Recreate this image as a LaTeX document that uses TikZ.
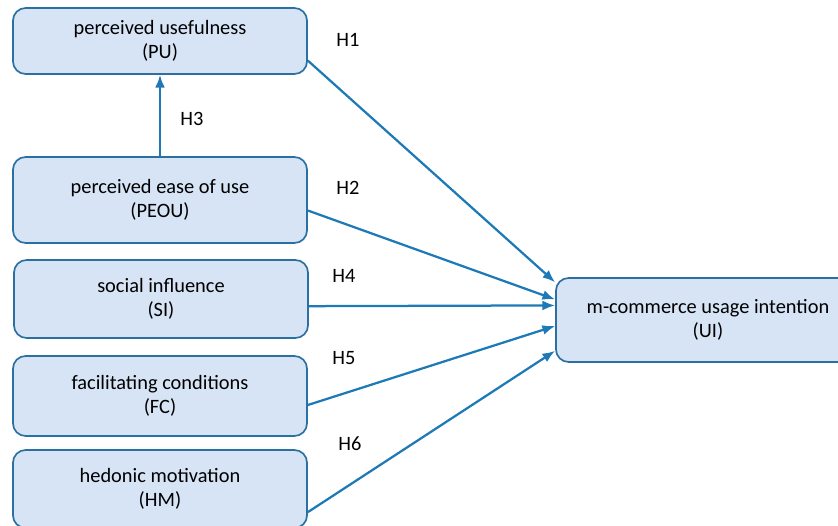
\documentclass[tikz,border=0pt]{standalone}
\usepackage{fontspec}
\setmainfont{Carlito}
\usepackage{tikz}
\usetikzlibrary{calc, arrows.meta}
\definecolor{boxfill}{RGB}{214,228,245}
\definecolor{boxline}{RGB}{42,112,160}
\definecolor{arrowblue}{RGB}{30,122,182}

\begin{document}
\begin{tikzpicture}[
      x=0.025cm, y=-0.025cm,
      every node/.style={align=center, font=\fontsize{14.5}{17}\selectfont},
      construct/.style={draw=boxline, line width=1.2pt, fill=boxfill, rounded corners=9pt,
                        minimum width=7.35cm, inner sep=0pt},
      path/.style={draw=arrowblue, line width=1.6pt, -{Latex[length=9pt, width=7pt]}},
    ]
    \useasboundingbox (0,0) rectangle (838,526);
    % predictors
    \node[construct, minimum height=1.65cm] (pu) at (160,41) {perceived usefulness\\(PU)};
    \node[construct, minimum height=2.15cm] (peou) at (160,200) {perceived ease of use\\(PEOU)};
    \node[construct, minimum height=1.95cm] (si) at (161,299) {social influence\\(SI)};
    \node[construct, minimum height=2.0cm] (fc) at (160,396) {facilitating conditions\\(FC)};
    \node[construct, minimum height=1.95cm] (hm) at (160,489) {hedonic motivation\\(HM)};
    % outcome
    \node[construct, minimum width=7.6cm, minimum height=2.1cm] (ui) at (708,320) {m-commerce usage intention\\(UI)};
    % hypotheses
    \draw[path] (peou.north) -- (pu.south);
    \draw[path] ($(pu.south east)!0.21!(pu.north east)$) -- ($(ui.south west)!0.94!(ui.north west)$);
    \draw[path] ($(peou.south east)!0.38!(peou.north east)$) -- ($(ui.south west)!0.74!(ui.north west)$);
    \draw[path] ($(si.south east)!0.41!(si.north east)$) -- ($(ui.south west)!0.67!(ui.north west)$);
    \draw[path] ($(fc.south east)!0.39!(fc.north east)$) -- ($(ui.south west)!0.43!(ui.north west)$);
    \draw[path] ($(hm.south east)!0.21!(hm.north east)$) -- ($(ui.south west)!0.14!(ui.north west)$);
    \node (h1) at (348,40) {H1};
    \node (h2) at (348,188) {H2};
    \node (h3) at (192,119) {H3};
    \node (h4) at (344,276) {H4};
    \node (h5) at (344,358) {H5};
    \node (h6) at (350,444) {H6};
\end{tikzpicture}
\end{document}
